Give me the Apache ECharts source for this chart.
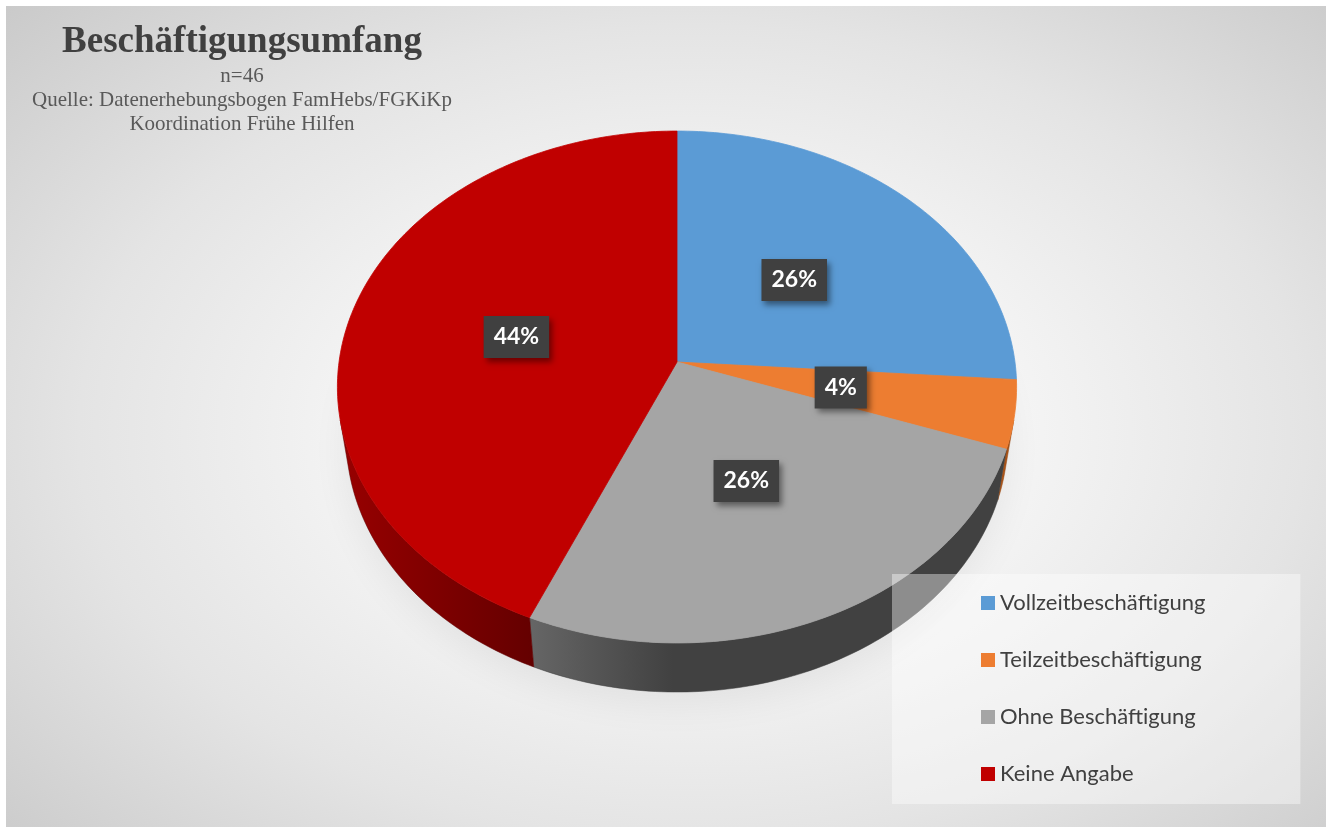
<!DOCTYPE html>
<html>
<head>
<meta charset="utf-8">
<script src="https://cdn.jsdelivr.net/npm/echarts@6/dist/echarts.min.js"></script>
<style>
  html, body { margin: 0; padding: 0; background: #fff; }
  #frame {
    position: absolute; left: 6px; top: 6px; width: 1320px; height: 821px;
    background: radial-gradient(ellipse 75% 80% at 52% 52%, #ffffff 0%, #f6f6f6 30%, #e4e4e4 62%, #c6c6c6 100%);
  }
  #main { position: absolute; left: 0; top: 0; width: 1333px; height: 827px; }
</style>
</head>
<body>
<div id="frame"></div>
<div id="main"></div>
<script>
// Werte (Prozent), wie im Diagramm
const categories = ['Vollzeitbeschäftigung', 'Teilzeitbeschäftigung', 'Ohne Beschäftigung', 'Keine Angabe']
const values = [26.1, 4.3, 26.1, 43.5]
const colors = ['#5b9bd5', '#ed7d31', '#a5a5a5', '#c00000']
// Seitenflächen: hell -> dunkel
const sideColors = [
  ['#3f6f9c', '#3a6690'],
  ['#b3591b', '#9c4c15'],
  ['#666666', '#414141'],
  ['#980000', '#640000']
]
const subtitleLines = ['n=46', 'Quelle: Datenerhebungsbogen FamHebs/FGKiKp', 'Koordination Frühe Hilfen']

const total = values.reduce((a, b) => a + b, 0)
const starts = []
values.reduce((acc, v) => { starts.push(acc); return acc + v }, 0)

// perspektivische Projektion der Tortenscheibe
const PIE = { cx: 677, cy: 362, f: 2288, dist: 6.77, tilt: 48.6 * Math.PI / 180, h: 0.237 }
const sT = Math.sin(PIE.tilt), cT = Math.cos(PIE.tilt)

function project(theta, r, y) {
  const X = r * Math.sin(theta)
  const Z = r * Math.cos(theta)
  const yc = Z * sT + y * cT
  const zc = PIE.dist + Z * cT - y * sT
  return [PIE.cx + PIE.f * X / zc, PIE.cy - PIE.f * yc / zc]
}

function arcPoints(a0, a1, r, y) {
  const n = Math.max(2, Math.ceil((a1 - a0) / (Math.PI / 180)))
  const pts = []
  for (let k = 0; k <= n; k++) pts.push(project(a0 + (a1 - a0) * k / n, r, y))
  return pts
}

// sichtbarer Bereich der Mantelfläche
const sideMargin = Math.asin(1 / (PIE.dist * cT))
const sideMin = Math.PI / 2 + sideMargin
const sideMax = Math.PI * 1.5 - sideMargin

function renderSlice(params, api) {
  const i = params.seriesIndex
  const a0 = starts[i] / total * Math.PI * 2
  const a1 = (starts[i] + api.value(0)) / total * Math.PI * 2
  const children = []

  const b0 = Math.max(a0, sideMin)
  const b1 = Math.min(a1, sideMax)
  if (b1 > b0) {
    const topArc = arcPoints(b0, b1, 1, 0)
    const botArc = arcPoints(b0, b1, 1, -PIE.h).reverse()
    const pts = topArc.concat(botArc)
    const xs = pts.map(p => p[0])
    const x0 = Math.min(...xs), x1 = Math.max(...xs)
    children.push({
      type: 'polygon',
      z2: 0,
      shape: { points: pts },
      style: {
        fill: {
          type: 'linear', x: x0, y: 0, x2: x1, y2: 0, global: true,
          colorStops: [
            { offset: 0, color: sideColors[i][0] },
            { offset: i === 2 ? 0.3 : 1, color: sideColors[i][1] },
            { offset: 1, color: sideColors[i][1] }
          ]
        },
        stroke: sideColors[i][1],
        lineWidth: 0.5
      }
    })
  }

  children.push({
    type: 'polygon',
    z2: 10,
    shape: { points: [project(0, 0, 0)].concat(arcPoints(a0, a1, 1, 0)) },
    style: { fill: colors[i], stroke: colors[i], lineWidth: 0.8 }
  })

  const mid = (a0 + a1) / 2
  const lp = project(mid, 0.49, 0)
  children.push({
    type: 'text',
    x: lp[0],
    y: lp[1],
    z2: 100,
    style: {
      text: Math.round(api.value(0)) + '%',
      fill: '#ffffff',
      font: 'bold 23px Lato',
      align: 'center',
      verticalAlign: 'middle',
      lineHeight: 24,
      padding: [9, 10, 9, 10],
      backgroundColor: '#404040',
      shadowBlur: 6,
      shadowColor: 'rgba(0,0,0,0.45)',
      shadowOffsetX: 3,
      shadowOffsetY: 4
    }
  })
  return { type: 'group', children }
}

// weicher Schatten unter der Torte
function renderShadow() {
  const outline = arcPoints(0, Math.PI * 2, 1.0, -PIE.h)
  return {
    type: 'polygon',
    shape: { points: outline },
    style: {
      fill: 'rgba(0,0,0,0.16)',
      shadowBlur: 36,
      shadowColor: 'rgba(0,0,0,0.42)',
      shadowOffsetY: 12
    }
  }
}

const chart = echarts.init(document.getElementById('main'))

const series = categories.map((name, i) => ({
  type: 'custom',
  name: name,
  coordinateSystem: 'none',
  itemStyle: { color: colors[i] },
  data: [values[i]],
  renderItem: renderSlice,
  silent: true,
  z: 3
}))
series.push({
  type: 'custom',
  name: 'schatten',
  coordinateSystem: 'none',
  data: [total],
  renderItem: renderShadow,
  silent: true,
  z: 1
})

chart.setOption({
  animation: false,
  color: colors,
  title: {
    text: 'Beschäftigungsumfang',
    subtext: subtitleLines.join('\n'),
    left: 242,
    top: 24,
    padding: 0,
    textAlign: 'center',
    itemGap: 3,
    textStyle: { fontFamily: 'Liberation Serif', fontWeight: 'bold', fontSize: 37, color: '#404040' },
    subtextStyle: { fontFamily: 'Liberation Serif', fontSize: 21, lineHeight: 24, color: '#595959' }
  },
  legend: {
    orient: 'vertical',
    left: 892,
    top: 574,
    data: categories,
    icon: 'rect',
    itemWidth: 14,
    itemHeight: 14,
    itemGap: 35,
    padding: [18, 95, 19, 89],
    backgroundColor: 'rgba(255,255,255,0.4)',
    selectedMode: false,
    textStyle: { fontFamily: 'Lato', fontSize: 22, color: '#404040' }
  },
  series: series
})

window.onresize = () => {
  chart.resize()
}
</script>
</body>
</html>
